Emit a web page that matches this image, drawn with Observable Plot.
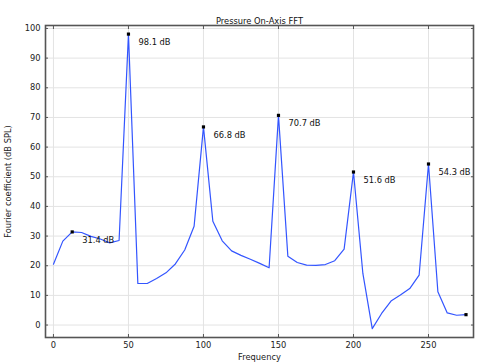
<!DOCTYPE html>
<html><head><meta charset="utf-8">
<script src="https://cdn.jsdelivr.net/npm/d3@7"></script>
<script src="https://cdn.jsdelivr.net/npm/@observablehq/plot@0.6"></script>
<style>body{margin:0;background:#fff;font-family:"DejaVu Sans",sans-serif}</style>
</head><body><div id="chart"></div>
<script>
const title = "Pressure On-Axis FFT";
const xLabel = "Frequency";
const yLabel = "Fourier coefficient (dB SPL)";
const frequencies = [0,6.25,12.5,18.75,25,31.25,37.5,43.75,50,56.25,62.5,68.75,75,81.25,87.5,93.75,100,106.25,112.5,118.75,125,131.25,137.5,143.75,150,156.25,162.5,168.75,175,181.25,187.5,193.75,200,206.25,212.5,218.75,225,231.25,237.5,243.75,250,256.25,262.5,268.75,275];
const levels = [20.5,28.3,31.4,31.2,29.9,29.0,27.7,28.5,98.1,14.0,14.0,15.7,17.6,20.6,25.3,33.3,66.8,35.0,28.4,25.0,23.5,22.2,20.8,19.3,70.7,23.2,21.1,20.2,20.1,20.4,21.7,25.6,51.6,17.4,-1.2,3.9,8.1,10.1,12.3,16.8,54.3,11.2,4.1,3.3,3.5];
const markerFreqs = [12.5,50,100,150,200,250,275];
const markerLabeled = [true,true,true,true,true,true,false];
const xTicks = [0,50,100,150,200,250];
const yTicks = [0,10,20,30,40,50,60,70,80,90,100];

const data = frequencies.map((f,i)=>({f, v: levels[i]}));
const markers = markerFreqs.map((f,i)=>({f, v: levels[frequencies.indexOf(f)], lab: markerLabeled[i]}));
const blank = () => "";

const chart = Plot.plot({
  width: 482, height: 363,
  marginLeft: 45, marginRight: 9, marginTop: 25, marginBottom: 26,
  style: {fontFamily: "DejaVu Sans, sans-serif", fontSize: "8px", color: "#222", background: "#fff"},
  x: {domain: [-5.3, 280]},
  y: {domain: [-4.2, 101]},
  marks: [
    Plot.gridX(xTicks, {stroke: "#e3e3e3", strokeOpacity: 1}),
    Plot.gridY(yTicks, {stroke: "#e3e3e3", strokeOpacity: 1}),
    Plot.axisX(xTicks, {anchor: "bottom", tickSize: -3, tickPadding: 8, label: xLabel, labelAnchor: "center", labelArrow: "none", labelOffset: 22, fontSize: 8.3, stroke: "#555"}),
    Plot.axisX(xTicks, {anchor: "top", tickSize: -3, tickFormat: blank, label: null, stroke: "#555"}),
    Plot.axisY(yTicks, {anchor: "left", tickSize: -3, tickPadding: 8, label: yLabel, labelAnchor: "center", labelArrow: "none", labelOffset: 40, fontSize: 8.3, stroke: "#555"}),
    Plot.axisY(yTicks, {anchor: "right", tickSize: -3, tickFormat: blank, label: null, stroke: "#555"}),
    Plot.frame({stroke: "#555", strokeWidth: 1.6}),
    Plot.line(data, {x: "f", y: "v", stroke: "#3355ff", strokeWidth: 1.2}),
    Plot.dot(markers, {x: "f", y: "v", symbol: "square", r: 1.8, fill: "#000"}),
    Plot.text(markers.filter(d=>d.lab), {x: "f", y: "v", text: d => `${d.v.toFixed(1)} dB`, textAnchor: "start", dx: 10, dy: 8, fontSize: 8.3, fill: "#111"}),
    Plot.text([title], {frameAnchor: "top", dy: -7, fontSize: 8.3, fill: "#111"})
  ]
});
document.getElementById("chart").appendChild(chart);
</script></body></html>
